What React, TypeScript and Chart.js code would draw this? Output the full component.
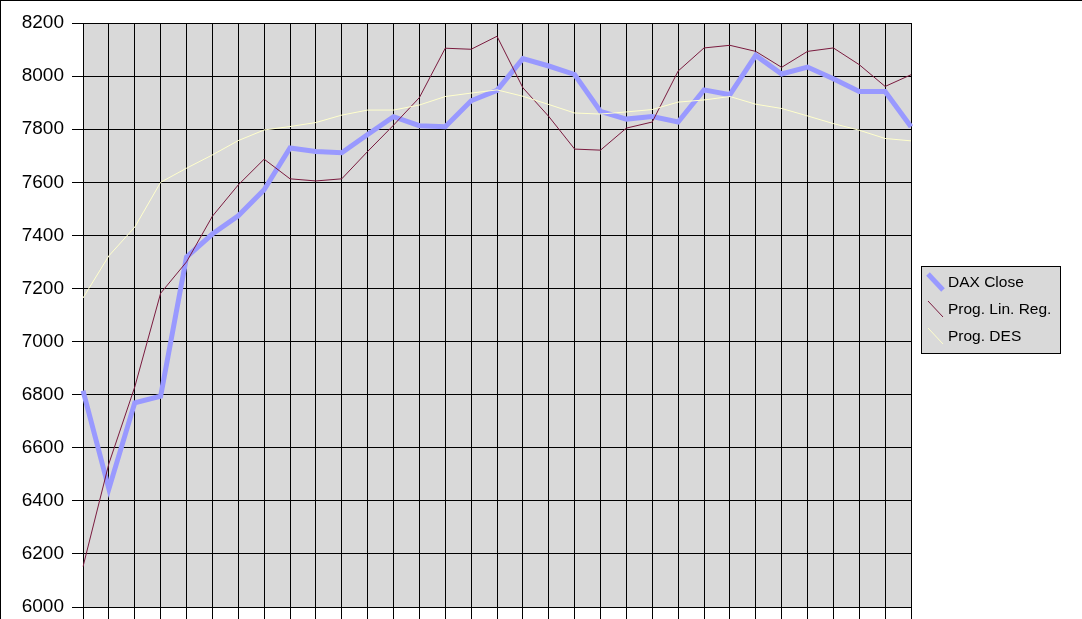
import React, { useEffect, useRef } from "react";
import { Chart, registerables } from "chart.js";

Chart.register(...registerables);

const categories = [
  "1", "2", "3", "4", "5", "6", "7", "8", "9", "10", "11",
  "12", "13", "14", "15", "16", "17", "18", "19", "20", "21", "22",
  "23", "24", "25", "26", "27", "28", "29", "30", "31", "32", "33",
];

const daxClose = [
  6815, 6445, 6769, 6794, 7318, 7405, 7474, 7572, 7729, 7716, 7711,
  7780, 7847, 7813, 7809, 7907, 7946, 8066, 8038, 8006, 7867, 7838,
  7848, 7827, 7948, 7930, 8078, 8008, 8034, 7990, 7942, 7942, 7809,
];

const progLinReg = [
  6152, 6540, 6829, 7182, 7300, 7472, 7590, 7687, 7613, 7605, 7613,
  7716, 7815, 7919, 8105, 8101, 8150, 7956, 7848, 7725, 7721, 7804,
  7827, 8019, 8106, 8116, 8093, 8033, 8093, 8106, 8043, 7961, 8005,
];

const progDES = [
  7164, 7323, 7431, 7600, 7653, 7703, 7757, 7797, 7810, 7825, 7853,
  7872, 7872, 7891, 7923, 7936, 7948, 7924, 7893, 7861, 7857, 7865,
  7874, 7902, 7910, 7923, 7894, 7878, 7850, 7821, 7796, 7765, 7756,
];

const seriesNames = ["DAX Close", "Prog. Lin. Reg.", "Prog. DES"];
const seriesColors = ["#9999FF", "#7A1A3E", "#FFFFCC"];
const seriesWidths = [5, 1, 1];

const yMin = 6000;
const yMax = 8200;
const yStep = 200;

const legendPlugin = {
  id: "excelLegend",
  afterDraw(chart: any) {
    const ctx = chart.ctx as CanvasRenderingContext2D;
    const x0 = 920;
    const y0 = 265;
    const w = 139;
    const h = 87;
    ctx.save();
    ctx.fillStyle = "#D9D9D9";
    ctx.fillRect(x0, y0, w, h);
    ctx.strokeStyle = "#000000";
    ctx.lineWidth = 1;
    ctx.strokeRect(x0 + 0.5, y0 + 0.5, w, h);
    ctx.font = "15.5px 'Liberation Sans', Arial, sans-serif";
    ctx.textBaseline = "middle";
    ctx.textAlign = "left";
    chart.data.datasets.forEach((ds: any, i: number) => {
      const cy = y0 + 16 + i * 27;
      ctx.strokeStyle = ds.borderColor;
      ctx.lineWidth = ds.borderWidth;
      ctx.lineCap = "butt";
      ctx.beginPath();
      ctx.moveTo(x0 + 7, cy - 8);
      ctx.lineTo(x0 + 22, cy + 8);
      ctx.stroke();
      ctx.fillStyle = "#000000";
      ctx.fillText(ds.label, x0 + 27, cy + 1);
    });
    ctx.restore();
  },
};

export default function App() {
  const canvasRef = useRef<HTMLCanvasElement | null>(null);

  useEffect(() => {
    if (!canvasRef.current) return;
    const seriesData = [daxClose, progLinReg, progDES];
    const chart = new Chart(canvasRef.current, {
      type: "line",
      data: {
        labels: categories,
        datasets: seriesData.map((d, i) => ({
          label: seriesNames[i],
          data: d,
          borderColor: seriesColors[i],
          backgroundColor: seriesColors[i],
          borderWidth: seriesWidths[i],
          pointRadius: 0,
          pointHoverRadius: 0,
          tension: 0,
          fill: false,
          order: 3 - i,
        })),
      },
      options: {
        responsive: false,
        animation: false,
        events: [],
        layout: { padding: { top: 22, right: 171, bottom: 0, left: 0 } },
        plugins: {
          legend: { display: false },
          tooltip: { enabled: false },
          title: { display: false },
        },
        scales: {
          x: {
            type: "category",
            offset: false,
            ticks: { display: false, autoSkip: false },
            grid: {
              color: "#000000",
              lineWidth: 1,
              drawTicks: true,
              tickLength: 12,
              offset: false,
            },
            border: { display: true, color: "#000000", width: 1 },
            afterFit: (scale: any) => {
              scale.height = 12;
            },
          },
          y: {
            min: yMin,
            max: yMax,
            ticks: {
              stepSize: yStep,
              color: "#000000",
              padding: 8,
              font: { family: "'Liberation Sans', Arial, sans-serif", size: 19, lineHeight: 1 },
              callback: (v: any) => String(v),
            },
            grid: {
              color: "#000000",
              lineWidth: 1,
              drawTicks: true,
              tickLength: 11,
            },
            border: { display: true, color: "#000000", width: 1 },
            afterFit: (scale: any) => {
              scale.width = 82;
              scale.paddingTop = 0;
              scale.paddingBottom = 0;
            },
          },
        },
      },
      plugins: [
        {
          id: "plotBg",
          beforeDraw(c: any) {
            const a = c.chartArea;
            const ctx = c.ctx;
            ctx.save();
            ctx.fillStyle = "#D9D9D9";
            ctx.fillRect(a.left, a.top, a.right - a.left, a.bottom - a.top);
            ctx.restore();
          },
        },
        legendPlugin,
      ],
    });
    return () => chart.destroy();
  }, []);

  return (
    <div
      style={{
        position: "fixed",
        left: 0,
        top: 0,
        width: 1082,
        height: 619,
        boxSizing: "border-box",
        borderTop: "1px solid #000",
        borderLeft: "1px solid #000",
        background: "#FFFFFF",
        overflow: "hidden",
      }}
    >
      <canvas ref={canvasRef} width={1081} height={618} style={{ display: "block" }} />
    </div>
  );
}
